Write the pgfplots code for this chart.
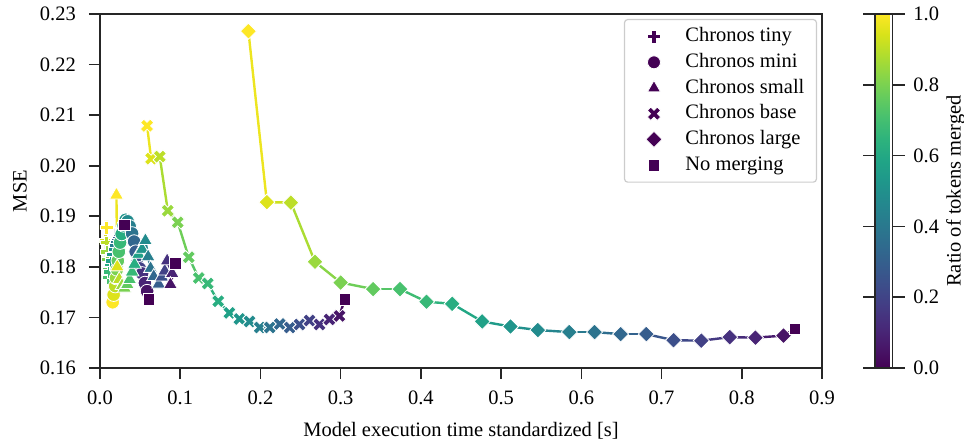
\documentclass[border=0pt]{standalone}
\usepackage{fontspec}
\setmainfont{Liberation Serif}
\usepackage{pgfplots}
\usepackage{pgfplotstable}
\pgfplotsset{compat=1.18}

\definecolor{vdark}{HTML}{440154}
\definecolor{axgray}{HTML}{262626}

\pgfdeclareplotmark{Plus}{%
  \pgfpathmoveto{\pgfqpoint{-0.35\pgfplotmarksize}{\pgfplotmarksize}}%
  \pgfpathlineto{\pgfqpoint{0.35\pgfplotmarksize}{\pgfplotmarksize}}%
  \pgfpathlineto{\pgfqpoint{0.35\pgfplotmarksize}{0.35\pgfplotmarksize}}%
  \pgfpathlineto{\pgfqpoint{\pgfplotmarksize}{0.35\pgfplotmarksize}}%
  \pgfpathlineto{\pgfqpoint{\pgfplotmarksize}{-0.35\pgfplotmarksize}}%
  \pgfpathlineto{\pgfqpoint{0.35\pgfplotmarksize}{-0.35\pgfplotmarksize}}%
  \pgfpathlineto{\pgfqpoint{0.35\pgfplotmarksize}{-\pgfplotmarksize}}%
  \pgfpathlineto{\pgfqpoint{-0.35\pgfplotmarksize}{-\pgfplotmarksize}}%
  \pgfpathlineto{\pgfqpoint{-0.35\pgfplotmarksize}{-0.35\pgfplotmarksize}}%
  \pgfpathlineto{\pgfqpoint{-\pgfplotmarksize}{-0.35\pgfplotmarksize}}%
  \pgfpathlineto{\pgfqpoint{-\pgfplotmarksize}{0.35\pgfplotmarksize}}%
  \pgfpathlineto{\pgfqpoint{-0.35\pgfplotmarksize}{0.35\pgfplotmarksize}}%
  \pgfpathclose
  \pgfusepathqfillstroke}

\pgfdeclareplotmark{Xmk}{%
  \pgfpathmoveto{\pgfqpoint{-0.9546\pgfplotmarksize}{0.4596\pgfplotmarksize}}%
  \pgfpathlineto{\pgfqpoint{-0.4596\pgfplotmarksize}{0.9546\pgfplotmarksize}}%
  \pgfpathlineto{\pgfqpoint{0pt}{0.4950\pgfplotmarksize}}%
  \pgfpathlineto{\pgfqpoint{0.4596\pgfplotmarksize}{0.9546\pgfplotmarksize}}%
  \pgfpathlineto{\pgfqpoint{0.9546\pgfplotmarksize}{0.4596\pgfplotmarksize}}%
  \pgfpathlineto{\pgfqpoint{0.4950\pgfplotmarksize}{0pt}}%
  \pgfpathlineto{\pgfqpoint{0.9546\pgfplotmarksize}{-0.4596\pgfplotmarksize}}%
  \pgfpathlineto{\pgfqpoint{0.4596\pgfplotmarksize}{-0.9546\pgfplotmarksize}}%
  \pgfpathlineto{\pgfqpoint{0pt}{-0.4950\pgfplotmarksize}}%
  \pgfpathlineto{\pgfqpoint{-0.4596\pgfplotmarksize}{-0.9546\pgfplotmarksize}}%
  \pgfpathlineto{\pgfqpoint{-0.9546\pgfplotmarksize}{-0.4596\pgfplotmarksize}}%
  \pgfpathlineto{\pgfqpoint{-0.4950\pgfplotmarksize}{0pt}}%
  \pgfpathclose
  \pgfusepathqfillstroke}

\pgfdeclareplotmark{Dmd}{%
  \pgfpathmoveto{\pgfqpoint{0pt}{\pgfplotmarksize}}%
  \pgfpathlineto{\pgfqpoint{\pgfplotmarksize}{0pt}}%
  \pgfpathlineto{\pgfqpoint{0pt}{-\pgfplotmarksize}}%
  \pgfpathlineto{\pgfqpoint{-\pgfplotmarksize}{0pt}}%
  \pgfpathclose
  \pgfusepathqfillstroke}

% x y r  (last row = no merging)
\pgfplotstableread{
x y r
0.0080 0.1878 1.00
0.0070 0.1852 0.95
0.0080 0.1848 0.90
0.0090 0.1830 0.85
0.0100 0.1815 0.80
0.0108 0.1795 0.76
0.0105 0.1779 0.71
0.0125 0.1790 0.67
0.0140 0.1805 0.62
0.0150 0.1812 0.57
0.0165 0.1825 0.52
0.0180 0.1835 0.48
0.0195 0.1843 0.43
0.0210 0.1850 0.38
0.0220 0.1856 0.33
0.0235 0.1860 0.29
0.0248 0.1864 0.24
0.0258 0.1868 0.19
0.0268 0.1871 0.14
0.0278 0.1874 0.10
0.0288 0.1878 0.05
0.0304 0.1883 0.00
}\tabTiny

\pgfplotstableread{
x y r
0.0158 0.1730 1.00
0.0170 0.1745 0.95
0.0190 0.1762 0.90
0.0200 0.1778 0.85
0.0212 0.1795 0.80
0.0222 0.1812 0.76
0.0235 0.1830 0.71
0.0250 0.1848 0.67
0.0270 0.1865 0.62
0.0295 0.1882 0.57
0.0320 0.1893 0.52
0.0345 0.1890 0.48
0.0370 0.1880 0.43
0.0400 0.1866 0.38
0.0425 0.1850 0.33
0.0445 0.1830 0.29
0.0462 0.1807 0.24
0.0495 0.1797 0.19
0.0525 0.1787 0.14
0.0560 0.1768 0.10
0.0587 0.1752 0.05
0.0608 0.1736 0.00
}\tabMini

\pgfplotstableread{
x y r
0.0205 0.1942 1.00
0.0215 0.1800 0.95
0.0240 0.1775 0.90
0.0275 0.1763 0.85
0.0305 0.1758 0.80
0.0340 0.1765 0.76
0.0370 0.1775 0.71
0.0400 0.1790 0.67
0.0430 0.1805 0.62
0.0480 0.1825 0.57
0.0525 0.1835 0.52
0.0566 0.1852 0.48
0.0600 0.1820 0.43
0.0630 0.1797 0.38
0.0670 0.1781 0.33
0.0732 0.1766 0.29
0.0770 0.1780 0.24
0.0807 0.1792 0.19
0.0837 0.1812 0.14
0.0899 0.1787 0.10
0.0878 0.1765 0.05
0.0940 0.1807 0.00
}\tabSmall

\pgfplotstableread{
x y r
0.0587 0.2079 1.00
0.0637 0.2014 0.95
0.0745 0.2018 0.90
0.0845 0.1911 0.85
0.0969 0.1888 0.80
0.1106 0.1819 0.76
0.1231 0.1778 0.71
0.1343 0.1767 0.67
0.1473 0.1732 0.62
0.1613 0.1709 0.57
0.1738 0.1697 0.52
0.1863 0.1692 0.48
0.1991 0.1680 0.43
0.2116 0.1680 0.38
0.2241 0.1687 0.33
0.2365 0.1680 0.29
0.2486 0.1686 0.24
0.2611 0.1694 0.19
0.2736 0.1686 0.14
0.2860 0.1696 0.10
0.2985 0.1703 0.05
0.3051 0.1736 0.00
}\tabBase

\pgfplotstableread{
x y r
0.1850 0.2266 1.00
0.2080 0.1928 0.95
0.2380 0.1927 0.90
0.2680 0.1810 0.85
0.3000 0.1769 0.80
0.3405 0.1756 0.76
0.3740 0.1756 0.71
0.4070 0.1731 0.67
0.4390 0.1727 0.62
0.4764 0.1692 0.57
0.5117 0.1682 0.52
0.5458 0.1675 0.48
0.5850 0.1671 0.43
0.6165 0.1671 0.38
0.6490 0.1667 0.33
0.6810 0.1667 0.29
0.7150 0.1655 0.24
0.7495 0.1654 0.19
0.7850 0.1661 0.14
0.8170 0.1660 0.10
0.8520 0.1664 0.05
0.8660 0.1677 0.00
}\tabLarge

\pgfplotsset{
  lineS/.style={mesh, point meta=explicit, line width=2.4pt, line cap=round, forget plot},
  markS/.style={scatter, only marks, point meta=explicit, forget plot,
    scatter/use mapped color={draw=white, fill=mapped color},
    mark options={line width=0.8pt}, skip coords between index={21}{22}},
}

\begin{document}
\fontsize{20.5}{24.6}\selectfont
\begin{tikzpicture}
\useasboundingbox (-100pt,-73pt) rectangle (864pt,368pt);
\begin{axis}[
  at={(0pt,0pt)}, anchor=south west,
  width=722pt, height=354pt, scale only axis,
  xmin=0, xmax=0.9, ymin=0.16, ymax=0.23,
  xtick={0,0.1,0.2,0.3,0.4,0.5,0.6,0.7,0.8,0.9},
  ytick={0.16,0.17,0.18,0.19,0.20,0.21,0.22,0.23},
  scaled ticks=false,
  xtick pos=bottom, ytick pos=left,
  tick align=outside, major tick length=11pt,
  tick style={line width=1.6pt, axgray},
  axis line style={line width=1.6pt, axgray},
  xticklabel style={anchor=north, inner sep=0pt, yshift=-11.5pt,
    /pgf/number format/.cd, fixed, fixed zerofill, precision=1, assume math mode=true},
  yticklabel style={anchor=east, inner sep=0pt, xshift=-13pt,
    /pgf/number format/.cd, fixed, fixed zerofill, precision=2, assume math mode=true},
  xlabel={Model execution time standardized [s]},
  ylabel={MSE},
  x label style={at={(axis description cs:0.5,-0.176)}, anchor=center},
  y label style={at={(axis description cs:-0.1108,0.5)}, anchor=center},
  colormap/viridis, point meta min=0, point meta max=1,
  colorbar,
  colorbar style={
    at={(parent axis.north east)}, anchor=north west, xshift=44.7pt,
    width=17.3pt, height=354pt, scale only axis,
    ytick={0,0.2,0.4,0.6,0.8,1},
    yticklabel style={anchor=west, inner sep=0pt, xshift=8.7pt,
      /pgf/number format/.cd, fixed, fixed zerofill, precision=1, assume math mode=true},
    tick align=outside, major tick length=12pt,
    tick style={line width=1.6pt, axgray},
    axis line style={line width=1.6pt, axgray},
    ylabel={Ratio of tokens merged},
    every axis y label/.style={at={(axis description cs:4.65,0.5)}, anchor=center, rotate=90, inner sep=1pt},
  },
  legend style={at={(1,1)}, anchor=north east, xshift=-5pt, yshift=-5pt,
    draw=black!20, line width=1.2pt, rounded corners=3pt, fill=white,
    inner xsep=12pt, inner ysep=7pt, row sep=5.7pt,
    nodes={inner sep=0pt, text height=15pt, text depth=5pt},
    cells={anchor=west}},
  legend image code/.code={\path (0pt,0pt) (48pt,0pt); \draw[#1] plot coordinates {(17pt,0pt)};},
]
\addlegendimage{only marks, mark=Plus, mark size=6.5pt, draw=white, fill=vdark, line width=0.8pt}
\addlegendentry{Chronos tiny}
\addlegendimage{only marks, mark=*, mark size=6.5pt, draw=white, fill=vdark, line width=0.8pt}
\addlegendentry{Chronos mini}
\addlegendimage{only marks, mark=triangle*, mark size=7.5pt, draw=white, fill=vdark, line width=0.8pt}
\addlegendentry{Chronos small}
\addlegendimage{only marks, mark=Xmk, mark size=7pt, draw=white, fill=vdark, line width=0.8pt}
\addlegendentry{Chronos base}
\addlegendimage{only marks, mark=Dmd, mark size=8pt, draw=white, fill=vdark, line width=0.8pt}
\addlegendentry{Chronos large}
\addlegendimage{only marks, mark=square*, mark size=5.8pt, draw=white, fill=vdark, line width=0.8pt}
\addlegendentry{No merging}

\addplot[lineS] table[x=x, y=y, meta=r] {\tabTiny};
\addplot[markS, mark=Plus, mark size=6.5pt] table[x=x, y=y, meta=r] {\tabTiny};
\addplot[lineS] table[x=x, y=y, meta=r] {\tabMini};
\addplot[markS, mark=*, mark size=6.8pt] table[x=x, y=y, meta=r] {\tabMini};
\addplot[lineS] table[x=x, y=y, meta=r] {\tabSmall};
\addplot[markS, mark=triangle*, mark size=8pt] table[x=x, y=y, meta=r] {\tabSmall};
\addplot[lineS] table[x=x, y=y, meta=r] {\tabBase};
\addplot[markS, mark=Xmk, mark size=7pt] table[x=x, y=y, meta=r] {\tabBase};
\addplot[lineS] table[x=x, y=y, meta=r] {\tabLarge};
\addplot[markS, mark=Dmd, mark size=8pt] table[x=x, y=y, meta=r] {\tabLarge};

\addplot[only marks, mark=square*, mark size=5.8pt, draw=white, fill=vdark, line width=0.8pt, forget plot] coordinates {
(0.0304,0.1883) (0.0608,0.1736) (0.0940,0.1807) (0.3051,0.1736) (0.8660,0.1677)};
\end{axis}
\end{tikzpicture}
\end{document}
